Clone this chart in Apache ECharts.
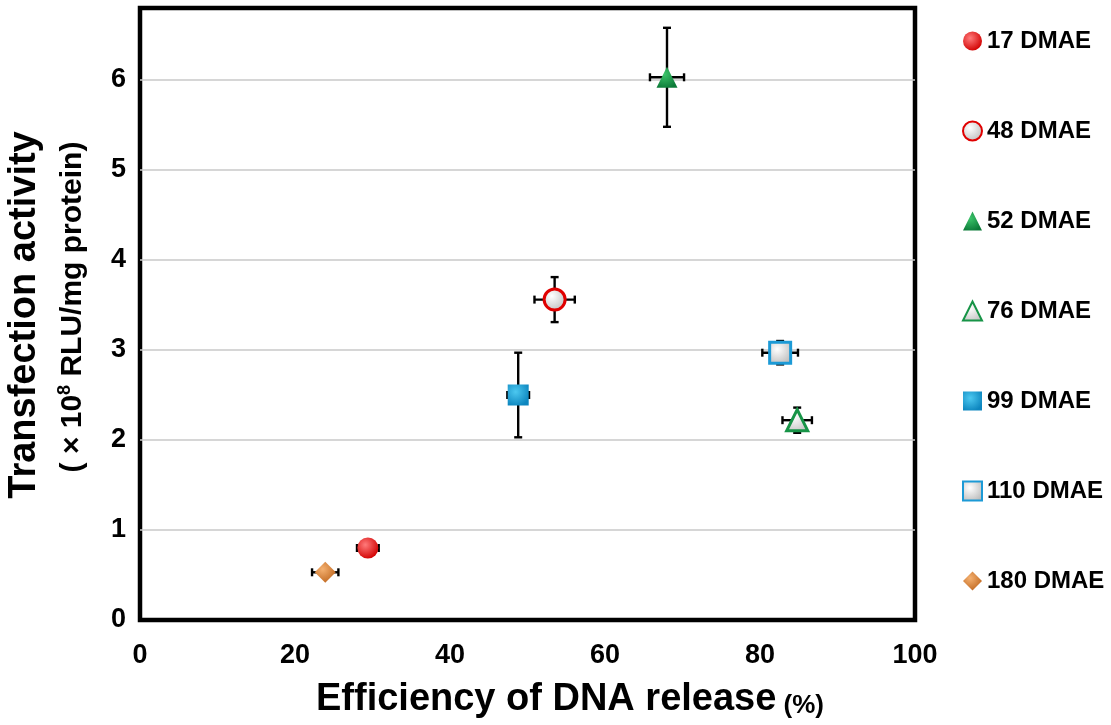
<!DOCTYPE html>
<html>
<head>
<meta charset="utf-8">
<script src="https://cdn.jsdelivr.net/npm/echarts@6/dist/echarts.min.js"></script>
<style>
  html, body { margin: 0; padding: 0; background: #fff; }
  #chart { width: 1111px; height: 725px; }
</style>
</head>
<body>
<div id="chart"></div>
<script>
// values
var names = ['17 DMAE', '48 DMAE', '52 DMAE', '76 DMAE', '99 DMAE', '110 DMAE', '180 DMAE'];
var xVals = [29.4, 53.5, 68.0, 84.8, 48.8, 82.6, 23.9];
var yVals = [0.80, 3.56, 6.03, 2.22, 2.50, 2.97, 0.53];
var xErr = [1.4, 2.6, 2.2, 1.9, 1.4, 2.3, 1.7];
var yErr = [0.02, 0.25, 0.55, 0.14, 0.47, 0.13, 0.02];
var xTicks = [0, 20, 40, 60, 80, 100];
var yTicks = [0, 1, 2, 3, 4, 5, 6];

var FONT = 'Liberation Sans, Arial, sans-serif';

function ball(c1, c2) {
    return new echarts.graphic.RadialGradient(0.38, 0.35, 0.7, [
        {offset: 0, color: c1},
        {offset: 1, color: c2}
    ]);
}

var looks = [
    {symbol: 'circle', color: ball('#ff7a7a', '#d10000'), border: '#c00000', bw: 0},
    {symbol: 'circle', color: ball('#ffffff', '#bdbdbd'), border: '#e00000', bw: 3},
    {symbol: 'triangle', color: ball('#3cc46a', '#0c7a38'), border: '#0c7a38', bw: 0},
    {symbol: 'triangle', color: ball('#ffffff', '#c4c4c4'), border: '#179447', bw: 3},
    {symbol: 'rect', color: ball('#4cc8f0', '#0d86bf'), border: '#0d86bf', bw: 0},
    {symbol: 'rect', color: ball('#ffffff', '#bcbcbc'), border: '#1c9ad6', bw: 3},
    {symbol: 'diamond', color: ball('#f4b070', '#c06820'), border: '#c06820', bw: 0}
];

var errData = names.map(function (n, i) {
    return [xVals[i], yVals[i], xErr[i], yErr[i]];
});

function renderErr(params, api) {
    var x = api.value(0), y = api.value(1), ex = api.value(2), ey = api.value(3);
    var l = api.coord([x - ex, y]), r = api.coord([x + ex, y]);
    var t = api.coord([x, y + ey]), b = api.coord([x, y - ey]);
    var cap = 4;
    var st = {stroke: '#000', lineWidth: 2.4};
    return {
        type: 'group',
        children: [
            {type: 'line', shape: {x1: l[0], y1: l[1], x2: r[0], y2: r[1]}, style: st},
            {type: 'line', shape: {x1: l[0], y1: l[1] - cap, x2: l[0], y2: l[1] + cap}, style: st},
            {type: 'line', shape: {x1: r[0], y1: r[1] - cap, x2: r[0], y2: r[1] + cap}, style: st},
            {type: 'line', shape: {x1: t[0], y1: t[1], x2: b[0], y2: b[1]}, style: st},
            {type: 'line', shape: {x1: t[0] - cap, y1: t[1], x2: t[0] + cap, y2: t[1]}, style: st},
            {type: 'line', shape: {x1: b[0] - cap, y1: b[1], x2: b[0] + cap, y2: b[1]}, style: st}
        ]
    };
}

var series = [{
    name: 'err',
    type: 'custom',
    z: 1,
    renderItem: renderErr,
    data: errData,
    silent: true
}];

names.forEach(function (n, i) {
    series.push({
        name: n,
        type: 'scatter',
        z: 3,
        symbol: looks[i].symbol,
        symbolSize: 21,
        itemStyle: {
            color: looks[i].color,
            borderColor: looks[i].border,
            borderWidth: looks[i].bw,
            opacity: 1
        },
        data: [[xVals[i], yVals[i]]]
    });
});

var chart = echarts.init(document.getElementById('chart'));
chart.setOption({
    animation: false,
    grid: {
        left: 140, right: 196, top: 8, bottom: 105,
        show: true, borderColor: '#000', borderWidth: 4.5, backgroundColor: '#fff'
    },
    legend: {
        data: names,
        orient: 'vertical',
        left: 957,
        top: 24,
        itemWidth: 19,
        itemHeight: 19,
        itemGap: 66,
        textStyle: {fontFamily: FONT, fontWeight: 'bold', fontSize: 24, color: '#000', lineHeight: 22}
    },
    xAxis: {
        type: 'value',
        min: 0, max: 100, interval: 20,
        axisLine: {show: false},
        axisTick: {show: false},
        splitLine: {show: false},
        axisLabel: {
            margin: 22,
            fontFamily: FONT, fontWeight: 'bold', fontSize: 27, color: '#000',
            formatter: function (v) { return xTicks.indexOf(v) >= 0 ? String(v) : ''; }
        }
    },
    yAxis: {
        type: 'value',
        min: 0, max: 6.8, interval: 1,
        axisLine: {show: false},
        axisTick: {show: false},
        splitLine: {showMinLine: false, showMaxLine: false, lineStyle: {color: '#c8c8c8', width: 1.5}},
        axisLabel: {
            margin: 14,
            fontFamily: FONT, fontWeight: 'bold', fontSize: 27, color: '#000',
            formatter: function (v) { return yTicks.indexOf(v) >= 0 ? String(v) : ''; }
        }
    },
    graphic: [
        {
            type: 'text',
            x: 570, y: 700,
            style: {
                text: '{a|Efficiency of DNA release}{b| (%)}',
                align: 'center', verticalAlign: 'middle',
                fill: '#000',
                rich: {
                    a: {fontFamily: FONT, fontWeight: 'bold', fontSize: 38, verticalAlign: 'bottom'},
                    b: {fontFamily: FONT, fontWeight: 'bold', fontSize: 26, verticalAlign: 'bottom'}
                }
            }
        },
        {
            type: 'text',
            x: 25, y: 315, rotation: Math.PI / 2,
            style: {
                text: 'Transfection activity',
                align: 'center', verticalAlign: 'middle',
                fontFamily: FONT, fontWeight: 'bold', fontSize: 38, fill: '#000'
            }
        },
        {
            type: 'text',
            x: 72, y: 307, rotation: Math.PI / 2,
            style: {
                text: '{s|( \u00d7 10}{p|8}{s| RLU/mg protein)}',
                align: 'center', verticalAlign: 'middle',
                fill: '#000',
                rich: {
                    s: {fontFamily: FONT, fontWeight: 'bold', fontSize: 30, verticalAlign: 'bottom'},
                    p: {fontFamily: FONT, fontWeight: 'bold', fontSize: 18, verticalAlign: 'top', padding: [0, 0, 14, 0]}
                }
            }
        }
    ],
    series: series
});
</script>
</body>
</html>
